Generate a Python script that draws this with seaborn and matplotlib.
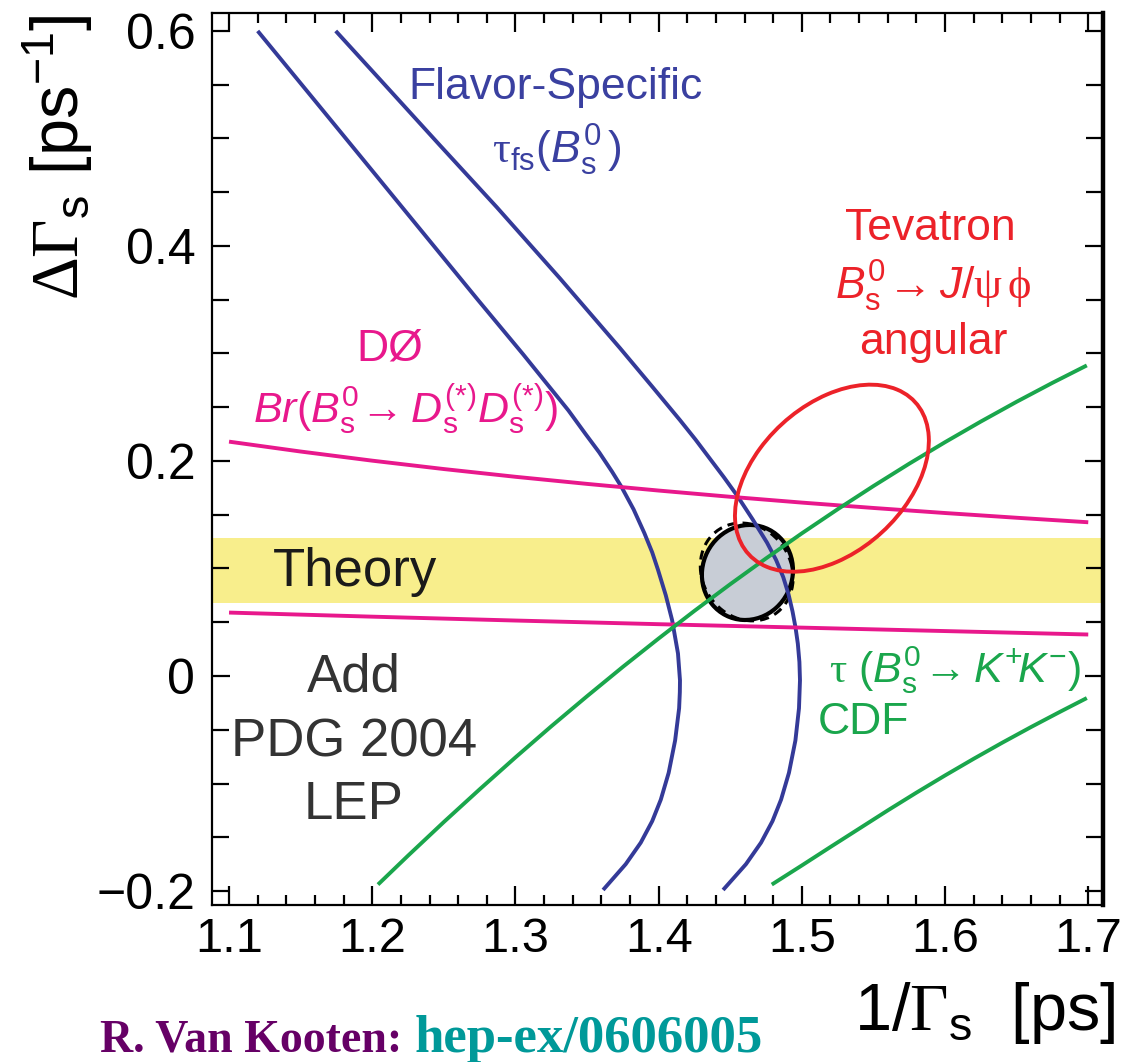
import matplotlib
matplotlib.use("Agg")
import numpy as np
import pandas as pd
import seaborn as sns
import matplotlib.pyplot as plt
from matplotlib.patches import Ellipse
from matplotlib.ticker import MultipleLocator, FixedLocator, FixedFormatter

# ---- constraints in the (1/Gamma_s, DeltaGamma_s) plane ----
# flavor-specific lifetime band: inner edge
fs_lo_y = [0.600, 0.531, 0.464, 0.407, 0.350, 0.299, 0.247, 0.225, 0.208, 0.190,
           0.176, 0.155, 0.133, 0.115, 0.099, 0.075, 0.052, 0.021, -0.004, -0.015,
           -0.030, -0.060, -0.090, -0.115, -0.135, -0.155, -0.175, -0.199]
fs_lo_x = [1.1200, 1.1625, 1.2037, 1.2387, 1.2737, 1.3055, 1.337, 1.349, 1.3585, 1.3675,
           1.374, 1.3825, 1.390, 1.3955, 1.3995, 1.405, 1.4094, 1.4135, 1.4149, 1.4148,
           1.4143, 1.4115, 1.4070, 1.4015, 1.3955, 1.3875, 1.3770, 1.3612]
# flavor-specific lifetime band: outer edge
fs_hi_y = [0.600, 0.554, 0.494, 0.436, 0.370, 0.305, 0.270, 0.238, 0.220, 0.200,
           0.185, 0.168, 0.146, 0.124, 0.108, 0.092, 0.076, 0.060, 0.045, 0.030,
           0.013, -0.004, -0.030, -0.060, -0.090, -0.115, -0.135, -0.155, -0.175, -0.199]
fs_hi_x = [1.1745, 1.2060, 1.2470, 1.2870, 1.3310, 1.3730, 1.3950, 1.4149, 1.4257, 1.4370,
           1.4455, 1.4547, 1.4655, 1.4757, 1.4820, 1.4870, 1.4907, 1.4935, 1.4956, 1.4972,
           1.4983, 1.4987, 1.4980, 1.4955, 1.4910, 1.4855, 1.4795, 1.4715, 1.4610, 1.4450]

# D0 Br(Bs -> Ds(*) Ds(*)) band
dsds_x = [1.10, 1.15, 1.20, 1.25, 1.30, 1.35, 1.40, 1.45, 1.50, 1.55, 1.60, 1.65, 1.70]
dsds_hi_y = [0.2180, 0.2088, 0.2003, 0.1925, 0.1853, 0.1787, 0.1725, 0.1667, 0.1613,
             0.1563, 0.1516, 0.1472, 0.1430]
dsds_lo_y = [0.0590, 0.0571, 0.0552, 0.0534, 0.0516, 0.0499, 0.0482, 0.0466, 0.0450,
             0.0434, 0.0418, 0.0402, 0.0386]

# CDF tau(Bs -> K+K-) band
kk_hi_x = [1.204, 1.225, 1.250, 1.275, 1.300, 1.325, 1.350, 1.375, 1.400, 1.425, 1.450,
           1.475, 1.500, 1.525, 1.550, 1.575, 1.600, 1.625, 1.650, 1.675, 1.699]
kk_hi_y = [-0.1940, -0.1671, -0.1358, -0.1054, -0.0757, -0.0468, -0.0188, 0.0085, 0.0349,
           0.0606, 0.0854, 0.1094, 0.1327, 0.1551, 0.1767, 0.1975, 0.2175, 0.2367,
           0.2551, 0.2727, 0.2889]
kk_lo_x = [1.479, 1.500, 1.520, 1.540, 1.560, 1.580, 1.600, 1.620, 1.640, 1.660, 1.680, 1.699]
kk_lo_y = [-0.1940, -0.1762, -0.1590, -0.1420, -0.1250, -0.1085, -0.0925, -0.0770,
           -0.0620, -0.0475, -0.0335, -0.0205]

# Tevatron Bs -> J/psi phi angular analysis contour
tev_center = (1.521, 0.184)
tev_sigma = (0.0677, 0.0870)
tev_rho = 0.40

# combined contour (solid) and alternative combination (dashed)
comb_center = (1.462, 0.0963)
comb_sigma = (0.0318, 0.0442)
comb_rho = 0.05
comb2_center = (1.4615, 0.0968)
comb2_sigma = (0.0324, 0.0455)
comb2_rho = -0.12

# theory prediction
theory_lo, theory_hi = 0.068, 0.128

xticks = [1.1, 1.2, 1.3, 1.4, 1.5, 1.6, 1.7]
xtick_labels = ["1.1", "1.2", "1.3", "1.4", "1.5", "1.6", "1.7"]
yticks = [-0.2, 0.0, 0.2, 0.4, 0.6]
ytick_labels = ["\u22120.2", "0", "0.2", "0.4", "0.6"]

# ---- style ----
sns.set_theme(style="ticks")
plt.rcParams["font.family"] = ["Liberation Sans", "DejaVu Sans"]
plt.rcParams["mathtext.fontset"] = "custom"
plt.rcParams["mathtext.rm"] = "Liberation Sans"
plt.rcParams["mathtext.it"] = "Liberation Sans:italic"
plt.rcParams["mathtext.bf"] = "Liberation Sans:bold"
plt.rcParams["mathtext.sf"] = "Liberation Serif"

BLUE = "#343a98"
BLUE_T = "#3a40a0"
MAGENTA = "#e8188c"
GREEN = "#1aa64c"
RED = "#ec2229"
YELLOW = "#f8ee8c"
GREY = "#c8cdd6"

fig = plt.figure(figsize=(11.22, 10.62), dpi=100)
W, H = 1122, 1062
ax = fig.add_axes([212 / W, 1 - 905 / H, (1103 - 212) / W, (905 - 13) / H])
ax.set_xlim(1.0881, 1.7103)
ax.set_ylim(-0.2130, 0.6167)


def cov_ellipse(center, sig, rho, **kw):
    cov = np.array([[sig[0] ** 2, rho * sig[0] * sig[1]],
                    [rho * sig[0] * sig[1], sig[1] ** 2]])
    vals, vecs = np.linalg.eigh(cov)
    order = vals.argsort()[::-1]
    vals, vecs = vals[order], vecs[:, order]
    ang = np.degrees(np.arctan2(vecs[1, 0], vecs[0, 0]))
    return Ellipse(center, 2 * np.sqrt(vals[0]), 2 * np.sqrt(vals[1]), angle=ang, **kw)


# theory band
ax.axhspan(theory_lo, theory_hi, color=YELLOW, lw=0, zorder=0.5)

# combined result
ax.add_patch(cov_ellipse(comb_center, comb_sigma, comb_rho, facecolor=GREY,
                         edgecolor="black", lw=3.0, zorder=2))
ax.add_patch(cov_ellipse(comb2_center, comb2_sigma, comb2_rho, facecolor="none",
                         edgecolor="black", lw=2.2, ls=(0, (3, 2)), zorder=2.1))

# constraint curves
lw = 2.8
for xs, ys, c in [(fs_lo_x, fs_lo_y, BLUE), (fs_hi_x, fs_hi_y, BLUE),
                  (dsds_x, dsds_hi_y, MAGENTA), (dsds_x, dsds_lo_y, MAGENTA),
                  (kk_hi_x, kk_hi_y, GREEN), (kk_lo_x, kk_lo_y, GREEN)]:
    sns.lineplot(x=xs, y=ys, sort=False, estimator=None, color=c,
                 linewidth=lw, ax=ax, zorder=3)
for ln in ax.lines:
    ln.set_solid_joinstyle("round")
    ln.set_solid_capstyle("butt")

ax.add_patch(cov_ellipse(tev_center, tev_sigma, tev_rho, facecolor="none",
                         edgecolor=RED, lw=lw, zorder=3.5))

# ---- annotations ----
fs_ann = 32
ax.text(1.3277, 0.547, "Flavor-Specific", color=BLUE_T, fontsize=fs_ann,
        ha="center", va="center")
ax.text(1.329, 0.489, r"$\mathsf{\tau}_{\rm fs}(B^0_{\rm s}\,)$", color=BLUE_T,
        fontsize=fs_ann, ha="center", va="center")

ax.text(1.5895, 0.416, "Tevatron", color=RED, fontsize=fs_ann, ha="center", va="center")
ax.text(1.5916, 0.362, r"$B^0_{\rm s}\!\rightarrow J/\mathsf{\psi}\,\mathsf{\phi}$",
        color=RED, fontsize=fs_ann, ha="center", va="center")
ax.text(1.5916, 0.310, "angular", color=RED, fontsize=fs_ann, ha="center", va="center")

ax.text(1.2124, 0.304, "D\u00d8", color=MAGENTA, fontsize=fs_ann, ha="center", va="center")
ax.text(1.2229, 0.2474,
        r"$Br(B^0_{\rm s}\!\rightarrow D^{(*)}_{\rm s}D^{(*)}_{\rm s})$",
        color=MAGENTA, fontsize=31, ha="center", va="center")

ax.text(1.188, 0.0967, "Theory", color="#1a1a1a", fontsize=38, ha="center", va="center")

for txt, yy in [("Add", -0.001), ("PDG 2004", -0.0614), ("LEP", -0.120)]:
    ax.text(1.187, yy, txt, color="#333333", fontsize=38, ha="center", va="center")

ax.text(1.607, 0.0056, r"$\mathsf{\tau}\ (B^0_{\rm s}\!\rightarrow K^{+}\!K^{-})$",
        color=GREEN, fontsize=31, ha="center", va="center")
ax.text(1.5427, -0.043, "CDF", color=GREEN, fontsize=fs_ann, ha="center", va="center")

# ---- axes ----
ax.xaxis.set_major_locator(FixedLocator(xticks))
ax.xaxis.set_major_formatter(FixedFormatter(xtick_labels))
ax.xaxis.set_minor_locator(MultipleLocator(0.02))
ax.yaxis.set_major_locator(FixedLocator(yticks))
ax.yaxis.set_major_formatter(FixedFormatter(ytick_labels))
ax.yaxis.set_minor_locator(MultipleLocator(0.05))

ax.tick_params(which="both", direction="in", top=True, right=True,
               width=1.6, color="black", labelcolor="black")
ax.tick_params(axis="x", which="major", length=14, pad=9, labelsize=35)
ax.tick_params(axis="x", which="minor", length=7)
ax.tick_params(axis="y", which="major", length=13, pad=12, labelsize=36)
ax.tick_params(axis="y", which="minor", length=12)

for side in ["left", "bottom", "top"]:
    ax.spines[side].set_linewidth(1.6)
    ax.spines[side].set_color("black")
ax.spines["right"].set_linewidth(3.2)
ax.spines["right"].set_color("black")
ax.grid(False)
ax.set_facecolor("white")

fig.text(58 / W, 1 - 157 / H, r"$\mathsf{\Delta\Gamma}_{\rm s}$ [ps$^{-1}$]",
         rotation=90, ha="center", va="center", fontsize=48, color="black")
fig.text(1115 / W, 1 - 1013 / H, r"$1/\mathsf{\Gamma}_{\rm s}$  [ps]",
         ha="right", va="center", fontsize=48, color="black")

fig.text(100 / W, 1 - 1052 / H, "R. Van Kooten:", family="Liberation Serif",
         weight="bold", color="#660066", fontsize=33, ha="left", va="baseline")
fig.text(415 / W, 1 - 1052 / H, "hep-ex/0606005", family="Liberation Serif",
         weight="bold", color="#009999", fontsize=38, ha="left", va="baseline")

fig.savefig("out.png", dpi=100, facecolor="white")
